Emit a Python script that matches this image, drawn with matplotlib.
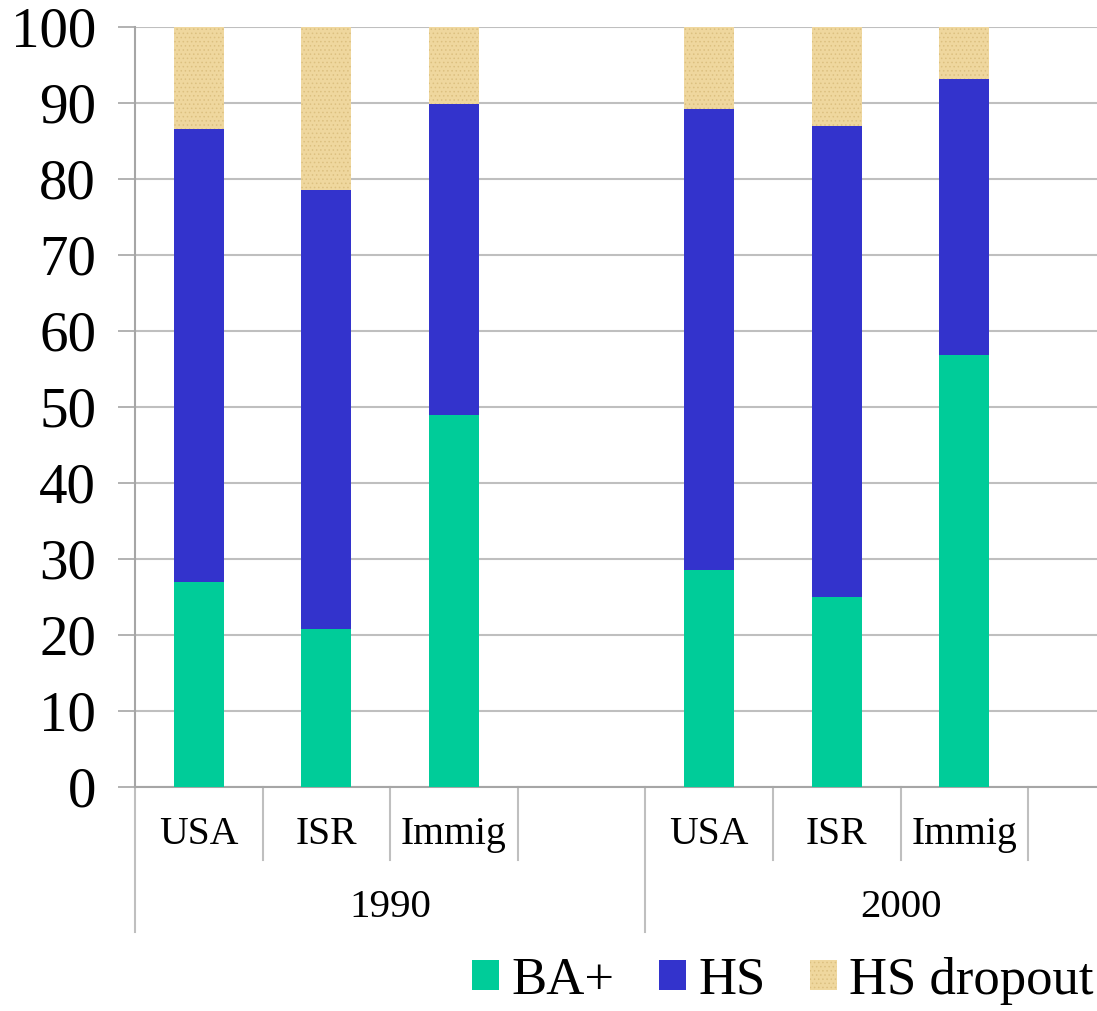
import matplotlib
matplotlib.use("Agg")
import matplotlib.pyplot as plt
from matplotlib.patches import Patch
from matplotlib.lines import Line2D
import numpy as np

# Educational attainment shares (%) by population and census year
years = ["1990", "2000"]
groups = ["USA", "ISR", "Immig"]
ba_plus = [27.0, 20.8, 49.0, 28.5, 25.0, 56.8]
hs = [59.6, 57.7, 40.9, 60.7, 62.0, 36.4]
hs_dropout = [13.4, 21.5, 10.1, 10.8, 13.0, 6.8]

series_names = ["BA+", "HS", "HS dropout"]
colors = ["#00CC99", "#3333CC", "#EFD79E"]
hatch_color = "#DCC080"

plt.rcParams["font.family"] = ["Liberation Serif", "DejaVu Serif"]
plt.rcParams["hatch.linewidth"] = 0.6

fig = plt.figure(figsize=(10.97, 10.11), dpi=100)
ax = fig.add_axes([0.123, 0.2216, 0.877, 0.7517])

# Each year occupies four slots: three bars and one empty gap
slots_per_year = len(groups) + 1
positions = [y * slots_per_year + g for y in range(len(years)) for g in range(len(groups))]
x = np.array(positions, dtype=float)
width = 0.39

ba = np.array(ba_plus)
h = np.array(hs)
d = np.array(hs_dropout)
ax.bar(x, ba, width, color=colors[0], zorder=3)
ax.bar(x, h, width, bottom=ba, color=colors[1], zorder=3)
ax.bar(x, d, width, bottom=ba + h, color=colors[2], edgecolor=hatch_color,
       linewidth=0, hatch="....", zorder=3)

ax.set_ylim(0, 100)
ax.set_xlim(-0.5, 7.04)
ax.set_yticks(range(0, 101, 10))
ax.tick_params(axis="y", labelsize=41, length=12, width=1.2, color="#A6A6A6", pad=16)
ax.set_xticks([])
ax.yaxis.grid(True, color="#BFBFBF", linewidth=1.5, zorder=0)
for s in ["top", "right"]:
    ax.spines[s].set_visible(False)
for s in ["left", "bottom"]:
    ax.spines[s].set_color("#A6A6A6")
    ax.spines[s].set_linewidth(1.5)

trans = ax.get_xaxis_transform()
line_kw = dict(color="#BFBFBF", linewidth=1.5, clip_on=False, transform=trans)

# Category labels and dividers below the axis
cat_y = -0.063
grp_y = -0.158
short_end = -0.096
long_end = -0.191
for xi, lab in zip(x, groups * len(years)):
    ax.text(xi, cat_y, lab, ha="center", va="center", fontsize=28.5, transform=trans)
for yi, yr in enumerate(years):
    start = yi * slots_per_year - 0.5
    for k in range(1, slots_per_year + 1):
        xb = start + k
        if k == slots_per_year:
            if xb <= 7.04:
                ax.add_line(Line2D([xb, xb], [0, long_end], **line_kw))
        else:
            ax.add_line(Line2D([xb, xb], [0, short_end], **line_kw))
    center = start + slots_per_year / 2
    ax.text(center, grp_y, yr, ha="center", va="center", fontsize=29.5, transform=trans)
ax.add_line(Line2D([-0.5, -0.5], [0, long_end], **line_kw))

handles = [
    Patch(facecolor=colors[0], edgecolor=colors[0], linewidth=0),
    Patch(facecolor=colors[1], edgecolor=colors[1], linewidth=0),
    Patch(facecolor=colors[2], edgecolor=hatch_color, linewidth=0, hatch="...."),
]
fig.legend(handles, series_names, loc="lower right", bbox_to_anchor=(1.026, -0.025),
           ncol=3, frameon=False, fontsize=38, handlelength=0.51, handleheight=0.51,
           handletextpad=0.23, columnspacing=0.85, borderaxespad=0.2)

fig.savefig("out.png", dpi=100)
